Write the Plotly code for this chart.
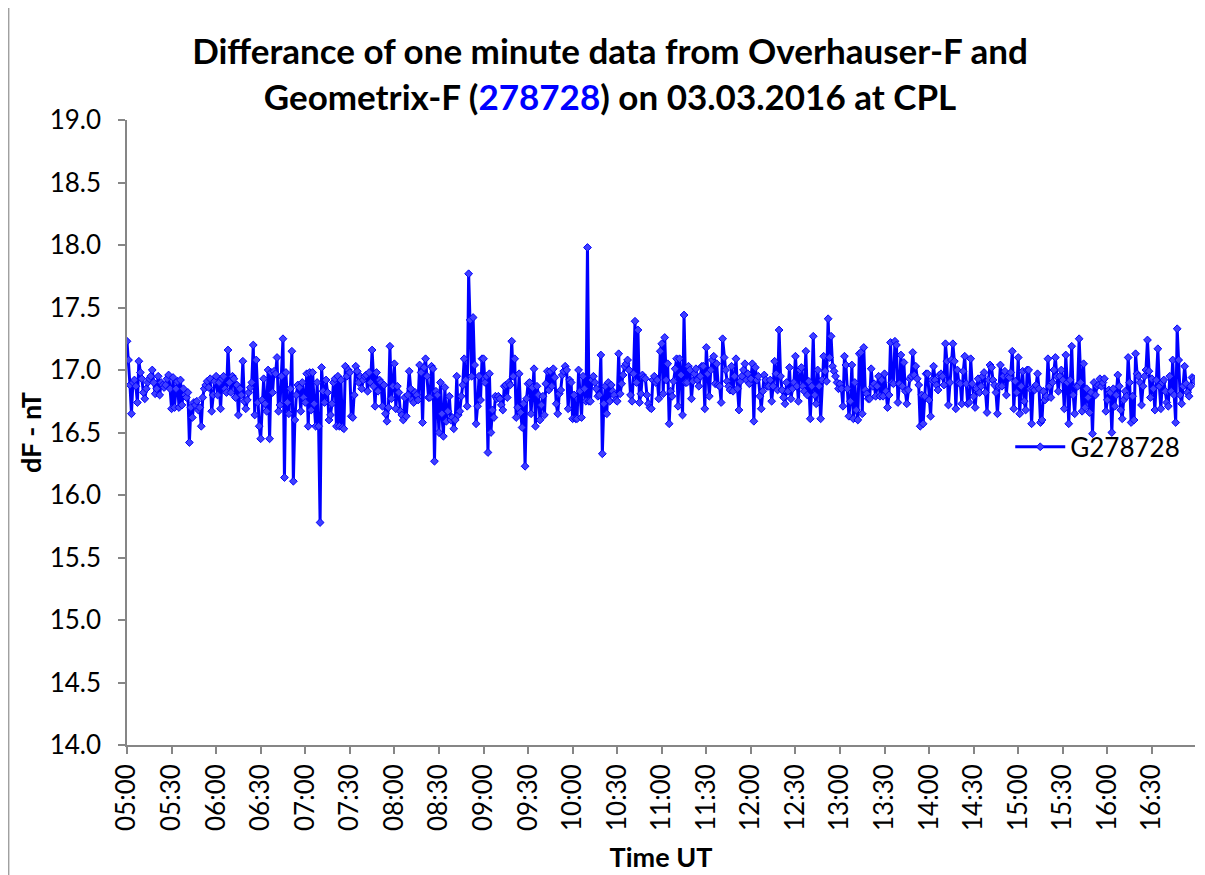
import plotly.graph_objects as go

# one-minute dF values (nT), 05:00 .. 16:59 UT, 30 values per row
dF = [
    # 05:00
    17.23, 17.08, 16.88, 16.65, 16.90, 16.92, 16.87, 16.74, 17.07, 16.98, 16.93, 16.82, 16.77, 16.85, 16.90, 16.93, 16.95, 17.00, 16.90, 16.81, 16.85, 16.95, 16.80, 16.90, 16.88, 16.86, 16.88, 16.93, 16.96, 16.85,
    # 05:30
    16.69, 16.94, 16.70, 16.85, 16.91, 16.70, 16.92, 16.72, 16.85, 16.80, 16.78, 16.82, 16.42, 16.70, 16.62, 16.74, 16.72, 16.75, 16.68, 16.70, 16.55, 16.78, 16.85, 16.88, 16.91, 16.86, 16.93, 16.67, 16.80, 16.91,
    # 06:00
    16.95, 16.80, 16.90, 16.69, 16.93, 16.95, 16.85, 16.82, 17.16, 16.90, 16.82, 16.95, 16.93, 16.78, 16.88, 16.64, 16.85, 16.80, 17.07, 16.75, 16.69, 16.76, 16.82, 16.86, 16.90, 17.20, 16.64, 17.08, 16.74, 16.55,
    # 06:30
    16.45, 16.76, 16.93, 16.73, 16.67, 17.00, 16.45, 16.98, 16.82, 16.99, 16.97, 17.10, 16.67, 16.72, 16.95, 17.25, 16.14, 16.98, 16.74, 16.65, 16.85, 17.15, 16.11, 16.60, 16.80, 16.88, 16.86, 16.67, 16.90, 16.78,
    # 07:00
    16.74, 16.97, 16.55, 16.98, 16.68, 16.98, 16.73, 16.55, 16.90, 16.55, 15.78, 17.02, 16.83, 16.74, 16.92, 16.82, 16.60, 16.64, 16.73, 16.90, 16.93, 16.55, 16.95, 16.55, 16.92, 16.54, 16.53, 17.03, 16.95, 17.00,
    # 07:30
    16.98, 16.63, 16.62, 16.80, 17.03, 16.99, 16.90, 16.95, 16.85, 16.92, 16.95, 16.96, 16.83, 16.98, 16.90, 17.16, 16.87, 16.71, 16.98, 16.83, 16.92, 16.90, 16.71, 16.88, 16.65, 16.59, 16.70, 17.19, 16.77, 16.87,
    # 08:00
    17.05, 16.69, 16.87, 16.82, 16.67, 16.64, 16.60, 16.78, 16.63, 16.80, 16.99, 16.85, 16.76, 16.74, 16.82, 16.80, 16.76, 17.04, 16.98, 16.58, 17.02, 17.09, 16.95, 16.78, 16.78, 17.03, 17.01, 16.27, 16.83, 16.80,
    # 08:30
    16.50, 16.90, 16.65, 16.47, 16.86, 16.59, 16.67, 16.79, 16.60, 16.62, 16.53, 16.60, 16.95, 16.64, 16.67, 16.79, 16.88, 17.09, 16.92, 16.71, 17.77, 17.40, 16.95, 17.42, 17.04, 16.57, 16.71, 16.95, 16.76, 17.09,
    # 09:00
    17.09, 16.90, 16.95, 16.34, 16.97, 16.50, 16.68, 16.62, 16.79, 16.77, 16.79, 16.77, 16.72, 16.68, 16.87, 16.88, 16.78, 16.90, 16.88, 17.23, 16.95, 17.09, 16.62, 16.70, 16.97, 16.66, 16.54, 16.73, 16.23, 16.77,
    # 09:30
    16.89, 16.90, 16.65, 16.86, 17.01, 16.55, 16.87, 16.80, 16.60, 16.72, 16.79, 16.64, 16.89, 16.99, 16.84, 16.99, 16.87, 17.01, 16.94, 16.73, 16.65, 16.81, 16.84, 16.96, 16.99, 17.03, 17.00, 16.69, 16.92, 16.90,
    # 10:00
    16.61, 16.80, 16.61, 16.61, 17.00, 16.83, 16.62, 16.95, 16.85, 16.75, 17.98, 16.75, 16.75, 16.92, 16.95, 16.90, 16.85, 16.79, 16.80, 17.12, 16.33, 16.73, 16.87, 16.65, 16.90, 16.75, 16.88, 16.83, 16.80, 16.76,
    # 10:30
    16.75, 17.13, 16.81, 16.89, 16.96, 17.03, 17.05, 17.08, 17.00, 16.80, 16.75, 16.97, 17.39, 16.90, 17.32, 16.74, 16.81, 16.96, 16.94, 16.93, 16.80, 16.73, 16.70, 16.69, 16.92, 16.95, 16.90, 16.92, 16.77, 17.15,
    # 11:00
    17.21, 16.81, 17.26, 16.92, 17.05, 16.57, 16.83, 16.79, 16.91, 17.01, 17.09, 16.71, 17.09, 16.96, 16.64, 17.44, 16.90, 16.90, 17.03, 17.00, 16.77, 16.91, 16.97, 17.01, 16.92, 16.87, 16.95, 17.03, 17.03, 16.69,
    # 11:30
    17.18, 16.97, 16.79, 17.00, 17.08, 17.11, 16.89, 17.05, 16.88, 16.87, 16.74, 17.25, 17.10, 17.00, 16.91, 16.87, 16.84, 17.03, 16.83, 16.95, 17.09, 16.85, 16.68, 16.91, 16.95, 17.00, 17.05, 16.92, 16.97, 16.89,
    # 12:00
    16.93, 17.05, 16.59, 17.02, 16.92, 16.95, 16.79, 16.69, 16.83, 16.96, 16.92, 16.87, 16.87, 16.92, 16.75, 16.87, 17.07, 16.97, 16.84, 17.32, 16.95, 16.84, 16.78, 16.73, 16.90, 16.83, 17.02, 16.77, 16.85, 16.90,
    # 12:30
    17.11, 16.87, 16.75, 17.00, 17.02, 16.87, 16.83, 17.15, 16.80, 16.91, 16.61, 16.87, 17.27, 16.80, 16.73, 17.00, 16.87, 16.61, 16.92, 17.11, 16.99, 16.91, 17.41, 17.10, 17.27, 17.03, 16.99, 16.95, 16.90, 16.85,
    # 13:00
    16.89, 16.85, 16.71, 17.11, 17.04, 16.85, 16.63, 16.75, 17.04, 16.61, 16.90, 16.68, 16.60, 17.13, 17.14, 16.65, 17.18, 16.84, 16.81, 16.77, 16.77, 17.01, 16.87, 16.89, 16.79, 16.87, 16.95, 16.79, 16.92, 16.79,
    # 13:30
    16.97, 16.83, 16.70, 16.80, 17.22, 16.90, 16.89, 17.23, 17.20, 16.74, 16.89, 17.12, 16.87, 17.06, 16.83, 16.73, 16.84, 16.93, 16.95, 17.14, 16.96, 17.03, 16.93, 16.88, 16.55, 16.80, 16.57, 16.79, 16.97, 16.97,
    # 14:00
    16.76, 16.63, 16.92, 17.03, 16.92, 16.88, 16.84, 16.96, 16.97, 16.95, 16.88, 17.21, 17.07, 16.72, 16.90, 17.08, 17.21, 17.07, 16.69, 17.00, 16.90, 16.89, 16.73, 16.99, 17.11, 16.89, 16.73, 16.74, 17.09, 16.89,
    # 14:30
    16.79, 16.70, 16.85, 16.93, 16.82, 16.87, 16.95, 16.98, 16.82, 16.66, 16.92, 17.04, 17.02, 16.92, 16.88, 16.82, 16.65, 16.87, 17.04, 16.87, 16.95, 16.99, 16.80, 16.95, 16.94, 16.98, 17.15, 16.69, 16.91, 16.82,
    # 15:00
    17.10, 16.65, 16.87, 16.99, 16.75, 16.68, 17.00, 17.00, 16.85, 16.57, 16.85, 16.84, 16.88, 16.97, 16.85, 16.58, 16.60, 16.83, 16.76, 16.79, 17.09, 16.87, 16.78, 16.90, 17.00, 17.10, 16.95, 16.83, 16.95, 17.00,
    # 15:30
    16.92, 16.69, 17.12, 16.90, 16.57, 16.92, 17.19, 16.80, 16.65, 16.87, 16.87, 17.25, 16.90, 16.67, 17.05, 16.70, 16.85, 16.78, 16.66, 16.82, 16.49, 16.90, 16.80, 16.87, 16.88, 16.93, 16.87, 16.90, 16.93, 16.67,
    # 16:00
    16.76, 16.84, 16.82, 16.50, 16.85, 16.71, 16.80, 16.96, 16.87, 16.68, 16.61, 16.76, 16.83, 16.79, 17.10, 16.90, 16.58, 16.79, 16.60, 17.13, 16.97, 16.95, 16.90, 16.72, 16.87, 16.95, 17.00, 17.24, 16.99, 16.78,
    # 16:30
    16.93, 16.85, 16.68, 16.92, 17.17, 16.87, 16.69, 16.90, 16.92, 16.83, 16.74, 16.71, 16.95, 16.83, 17.08, 16.80, 16.58, 17.33, 17.08, 16.80, 16.73, 16.87, 17.03, 16.89, 16.82, 16.79, 16.87, 16.94, 16.93, 16.91,
]

start_hour = 5
times = [f"{start_hour + i // 60:02d}:{i % 60:02d}" for i in range(len(dF))]
tick_labels = times[::30]

series_name = "G278728"
title_text = ("<b>Differance of one minute data from Overhauser-F and<br>"
              "Geometrix-F (<span style='color:#0000FF'>278728</span>) on 03.03.2016 at CPL</b>")

FONT = "Lato"
AXIS_GREY = "#868686"

fig = go.Figure()
fig.add_trace(go.Scatter(
    x=times, y=dF, mode="lines+markers", name=series_name,
    line=dict(color="#0000FF", width=3),
    marker=dict(symbol="diamond", size=6, color="#3f3fff",
                line=dict(color="#0000FF", width=1)),
))

fig.update_layout(
    width=1205, height=875,
    margin=dict(l=119, r=18, t=112, b=138, autoexpand=False),
    paper_bgcolor="white", plot_bgcolor="white",
    font=dict(family=FONT, color="black", size=26),
    title=dict(text=title_text, x=0.4996, xanchor="center", y=0.936, yanchor="top",
               font=dict(family=FONT, size=35, color="black")),
    showlegend=True,
    legend=dict(x=0.827, xanchor="left", y=0.477, yanchor="middle",
                bgcolor="rgba(0,0,0,0)", font=dict(family=FONT, size=26, color="black"),
                itemwidth=50),
    xaxis=dict(
        type="category", range=[0, len(dF) - 1], automargin=False,
        tickmode="array", tickvals=tick_labels, ticktext=tick_labels,
        tickangle=-90, ticks="outside", ticklen=7, tickcolor=AXIS_GREY, tickwidth=1.5,
        showline=True, linecolor=AXIS_GREY, linewidth=1.5, showgrid=False, zeroline=False,
        tickfont=dict(family=FONT, size=26),
        title=dict(text="<b>Time UT</b>", font=dict(family=FONT, size=27), standoff=18),
    ),
    yaxis=dict(
        range=[14, 19], dtick=0.5, tick0=14, tickformat=".1f", automargin=False,
        ticks="outside", ticklen=7, tickcolor=AXIS_GREY, tickwidth=1.5,
        ticklabelstandoff=12,
        showline=True, linecolor=AXIS_GREY, linewidth=1.5, showgrid=False, zeroline=False,
        tickfont=dict(family=FONT, size=26),
        title=dict(text="<b>dF - nT</b>", font=dict(family=FONT, size=27), standoff=0),
    ),
    shapes=[
        dict(type="line", xref="paper", yref="paper", x0=-0.1108, x1=-0.1108, y0=-0.25, y1=1.2,
             line=dict(color="#a0a0a0", width=1.5)),
    ],
)

fig.write_html("out.html")
